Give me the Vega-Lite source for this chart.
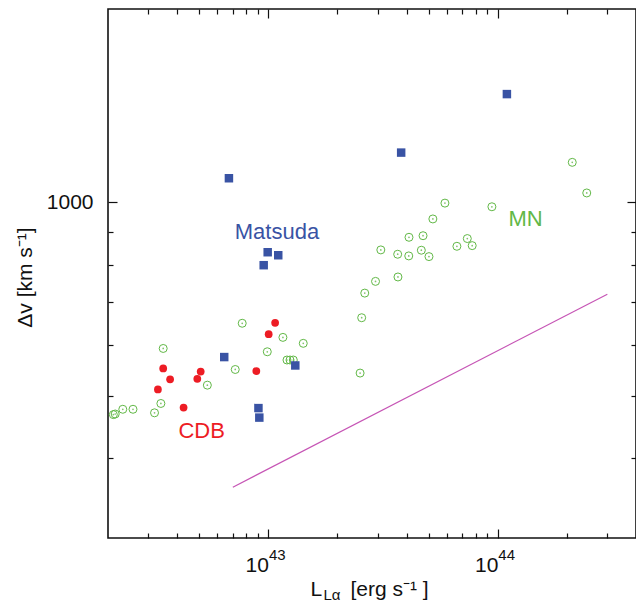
{
  "$schema": "https://vega.github.io/schema/vega-lite/v6.json",
  "width": 528,
  "height": 529,
  "autosize": {"type": "none"},
  "padding": {"left": 108, "top": 9, "right": 0, "bottom": 65},
  "config": {
    "font": "Liberation Sans",
    "view": {"stroke": "#111111", "strokeWidth": 1.6},
    "axis": {"domain": false, "grid": false, "tickColor": "#111111", "tickWidth": 1.2, "labelColor": "#111111", "titleColor": "#111111", "labelFont": "Liberation Sans", "titleFont": "Liberation Sans", "titleFontWeight": "normal", "labelOverlap": false, "labelFlush": false}
  },
  "resolve": {"axis": {"x": "independent", "y": "independent"}},
  "datasets": {
    "mn": [
      {"L": 2.11e42, "dv": 467}, {"L": 2.15e42, "dv": 468}, {"L": 2.32e42, "dv": 476}, {"L": 2.57e42, "dv": 476},
      {"L": 3.19e42, "dv": 470}, {"L": 3.40e42, "dv": 486}, {"L": 3.48e42, "dv": 592}, {"L": 5.42e42, "dv": 519},
      {"L": 7.17e42, "dv": 549}, {"L": 7.69e42, "dv": 648}, {"L": 9.89e42, "dv": 585}, {"L": 1.157e43, "dv": 616},
      {"L": 1.205e43, "dv": 568}, {"L": 1.242e43, "dv": 568}, {"L": 1.284e43, "dv": 568}, {"L": 1.419e43, "dv": 603},
      {"L": 2.51e43, "dv": 542}, {"L": 2.55e43, "dv": 661}, {"L": 2.63e43, "dv": 722}, {"L": 2.93e43, "dv": 753},
      {"L": 3.09e43, "dv": 843}, {"L": 3.66e43, "dv": 830}, {"L": 3.67e43, "dv": 765}, {"L": 4.09e43, "dv": 825},
      {"L": 4.10e43, "dv": 882}, {"L": 4.64e43, "dv": 842}, {"L": 4.72e43, "dv": 887}, {"L": 5.01e43, "dv": 823},
      {"L": 5.21e43, "dv": 942}, {"L": 5.88e43, "dv": 997}, {"L": 6.63e43, "dv": 854}, {"L": 7.36e43, "dv": 878},
      {"L": 7.73e43, "dv": 856}, {"L": 9.42e43, "dv": 984}, {"L": 2.11e44, "dv": 1154}, {"L": 2.44e44, "dv": 1034}
    ],
    "cdb": [
      {"L": 3.48e42, "dv": 551}, {"L": 3.73e42, "dv": 530}, {"L": 3.30e42, "dv": 511}, {"L": 5.07e42, "dv": 545},
      {"L": 4.90e42, "dv": 531}, {"L": 4.27e42, "dv": 479}, {"L": 8.86e42, "dv": 546}, {"L": 1.003e43, "dv": 623},
      {"L": 1.070e43, "dv": 649}
    ],
    "matsuda": [
      {"L": 6.73e42, "dv": 1090}, {"L": 6.42e42, "dv": 574}, {"L": 9.54e42, "dv": 798}, {"L": 9.93e42, "dv": 836},
      {"L": 1.104e43, "dv": 827}, {"L": 9.05e42, "dv": 478}, {"L": 9.13e42, "dv": 462}, {"L": 1.31e43, "dv": 557},
      {"L": 3.79e43, "dv": 1195}, {"L": 1.095e44, "dv": 1474}
    ],
    "fit": [
      {"L": 7.0e42, "dv": 360}, {"L": 3.0e44, "dv": 719}
    ],
    "labels": [
      {"L": 1.09e43, "dv": 899, "name": "Matsuda"},
      {"L": 5.12e42, "dv": 440, "name": "CDB"},
      {"L": 1.32e44, "dv": 941, "name": "MN"}
    ]
  },
  "layer": [
    {
      "data": {"name": "mn"},
      "mark": {"type": "point", "shape": "circle", "filled": false, "stroke": "#62b847", "strokeWidth": 1, "size": 64, "opacity": 1},
      "encoding": {
        "x": {"field": "L", "type": "quantitative", "scale": {"type": "log", "domain": [2e42, 4e44], "nice": false, "zero": false},
          "axis": {"orient": "bottom", "values": [1e43, 1e44], "ticks": false, "labelExpr": "'10'", "labelAlign": "right", "labelDx": -1, "labelBaseline": "alphabetic", "labelPadding": 33, "labelFontSize": 21,
            "title": "L", "titleFontSize": 21, "titleAlign": "left", "titleX": 202, "titleY": 57, "titleBaseline": "alphabetic"}},
        "y": {"field": "dv", "type": "quantitative", "scale": {"type": "log", "domain": [300, 2000], "nice": false, "zero": false},
          "axis": {"orient": "left", "values": [1000], "ticks": false, "labelExpr": "'1000'", "labelAlign": "right", "labelBaseline": "middle", "labelPadding": 15, "labelFontSize": 21,
            "title": "\u0394v [km s\u207b\u00b9]", "titleFontSize": 21, "titleX": -83, "titleY": 268, "titleAngle": -90, "titleAlign": "center", "titleBaseline": "middle"}}
      }
    },
    {
      "data": {"name": "mn"},
      "mark": {"type": "point", "shape": "circle", "filled": true, "color": "#62b847", "size": 3, "opacity": 0.8},
      "encoding": {
        "x": {"field": "L", "type": "quantitative", "scale": {"type": "log", "domain": [2e42, 4e44], "nice": false, "zero": false},
          "axis": {"orient": "bottom", "values": [1e43, 1e44], "ticks": false, "labelExpr": "datum.value > 5e43 ? '44' : '43'", "labelAlign": "left", "labelDx": 0, "labelBaseline": "alphabetic", "labelPadding": 21, "labelFontSize": 15,
            "title": "L\u03b1", "titleFontSize": 15, "titleAlign": "left", "titleX": 215, "titleY": 61, "titleBaseline": "alphabetic"}},
        "y": {"field": "dv", "type": "quantitative", "scale": {"type": "log", "domain": [300, 2000], "nice": false, "zero": false},
          "axis": {"orient": "left", "values": [1000], "tickSize": -9, "labels": false, "title": null}}
      }
    },
    {
      "data": {"name": "cdb"},
      "mark": {"type": "point", "shape": "circle", "filled": true, "color": "#ed1c24", "size": 60, "opacity": 1},
      "encoding": {
        "x": {"field": "L", "type": "quantitative", "scale": {"type": "log", "domain": [2e42, 4e44], "nice": false, "zero": false},
          "axis": {"orient": "bottom", "values": [1e43, 1e44], "tickSize": -9, "labels": false,
            "title": "[erg s\u207b\u00b9 ]", "titleFontSize": 21, "titleAlign": "left", "titleX": 242, "titleY": 57, "titleBaseline": "alphabetic"}},
        "y": {"field": "dv", "type": "quantitative", "scale": {"type": "log", "domain": [300, 2000], "nice": false, "zero": false},
          "axis": {"orient": "left", "values": [400, 500, 600, 700, 800, 900], "tickSize": -5, "labels": false, "title": null}}
      }
    },
    {
      "data": {"name": "matsuda"},
      "mark": {"type": "point", "shape": "square", "filled": true, "color": "#3953a4", "size": 72, "opacity": 1},
      "encoding": {
        "x": {"field": "L", "type": "quantitative", "scale": {"type": "log", "domain": [2e42, 4e44], "nice": false, "zero": false},
          "axis": {"orient": "bottom", "values": [3e42, 4e42, 5e42, 6e42, 7e42, 8e42, 9e42, 2e43, 3e43, 4e43, 5e43, 6e43, 7e43, 8e43, 9e43, 2e44, 3e44], "tickSize": -5, "labels": false, "title": null}},
        "y": {"field": "dv", "type": "quantitative", "scale": {"type": "log", "domain": [300, 2000], "nice": false, "zero": false},
          "axis": {"orient": "right", "values": [1000], "tickSize": -9, "labels": false, "title": null}}
      }
    },
    {
      "data": {"name": "fit"},
      "mark": {"type": "line", "color": "#c655b5", "strokeWidth": 1.2},
      "encoding": {
        "x": {"field": "L", "type": "quantitative", "scale": {"type": "log", "domain": [2e42, 4e44], "nice": false, "zero": false},
          "axis": {"orient": "top", "values": [1e43, 1e44], "tickSize": -9, "labels": false, "title": null}},
        "y": {"field": "dv", "type": "quantitative", "scale": {"type": "log", "domain": [300, 2000], "nice": false, "zero": false},
          "axis": {"orient": "right", "values": [400, 500, 600, 700, 800, 900], "tickSize": -5, "labels": false, "title": null}}
      }
    },
    {
      "data": {"name": "labels"},
      "mark": {"type": "text", "fontSize": 22, "font": "Liberation Sans", "align": "center", "baseline": "middle"},
      "encoding": {
        "x": {"field": "L", "type": "quantitative", "scale": {"type": "log", "domain": [2e42, 4e44], "nice": false, "zero": false},
          "axis": {"orient": "top", "values": [3e42, 4e42, 5e42, 6e42, 7e42, 8e42, 9e42, 2e43, 3e43, 4e43, 5e43, 6e43, 7e43, 8e43, 9e43, 2e44, 3e44], "tickSize": -5, "labels": false, "title": null}},
        "y": {"field": "dv", "type": "quantitative", "scale": {"type": "log", "domain": [300, 2000], "nice": false, "zero": false}, "axis": null},
        "text": {"field": "name"},
        "color": {"field": "name", "type": "nominal", "scale": {"domain": ["Matsuda", "CDB", "MN"], "range": ["#3953a4", "#ed1c24", "#62b847"]}, "legend": null}
      }
    }
  ]
}
